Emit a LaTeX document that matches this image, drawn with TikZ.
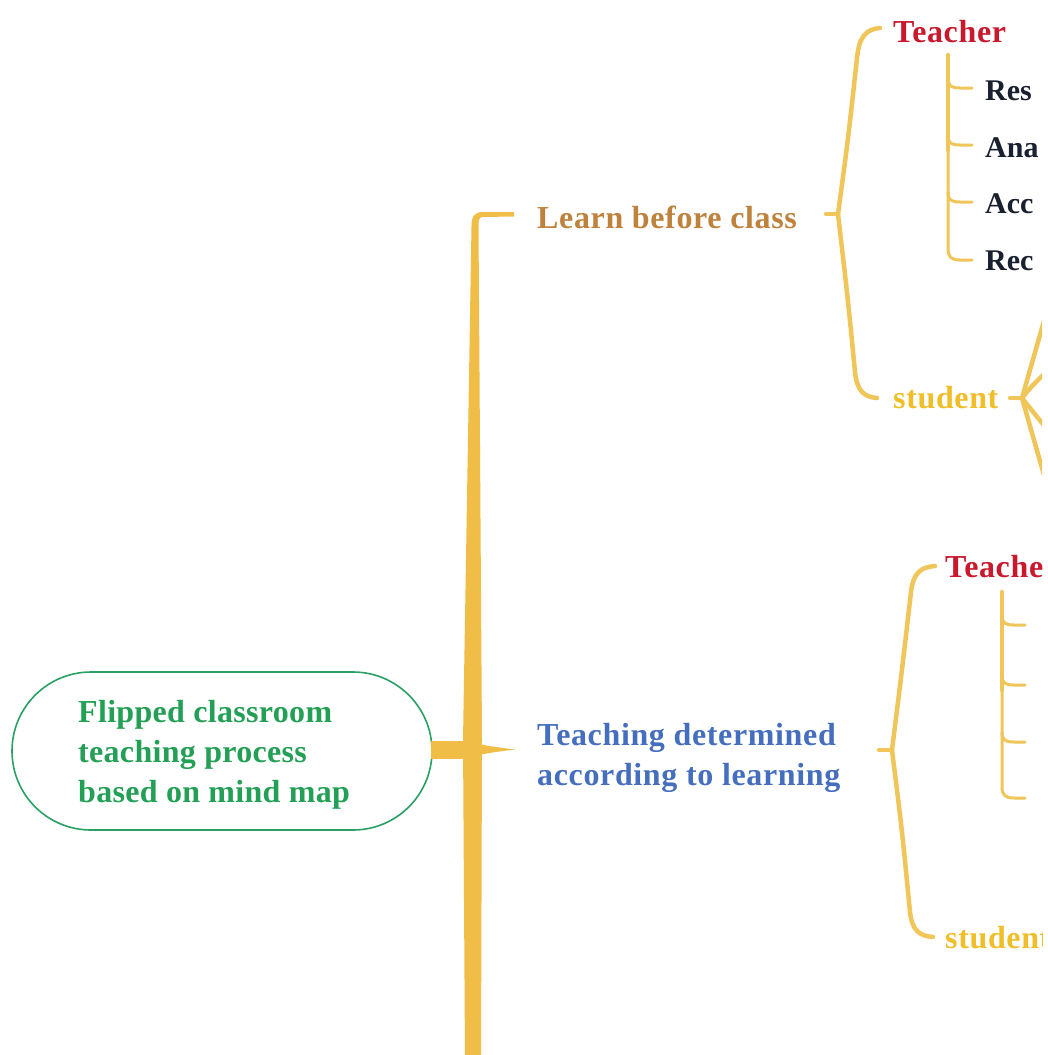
\documentclass[tikz,border=0pt]{standalone}
\usepackage{fontspec}
\setmainfont{Liberation Serif}
\usetikzlibrary{calc}
\definecolor{branch}{HTML}{F0BE46}
\definecolor{bracec}{HTML}{F0C55A}
\definecolor{rootline}{HTML}{2AA064}
\definecolor{roottext}{HTML}{23A055}
\definecolor{learnc}{HTML}{BE823C}
\definecolor{detc}{HTML}{466EBE}
\definecolor{teachc}{HTML}{C8192D}
\definecolor{studc}{HTML}{F0BE28}
\definecolor{itemc}{HTML}{19202F}
\begin{document}
\begin{tikzpicture}[x=1pt,y=-1pt,
  lbl/.style={inner sep=0pt, anchor=base west, font=\bfseries\fontsize{32}{40}\selectfont\addfontfeatures{LetterSpace=2}},
  brc/.style={draw=bracec, line width=4.5pt, line cap=round, line join=round},
  subline/.style={draw=bracec, line width=3pt, line cap=round, line join=round},
  subvert/.style={draw=bracec, line width=4.5pt, line cap=round}]
\useasboundingbox (0,0) rectangle (1047,1055);
\fill[white] (0,0) rectangle (1047,1055);
\clip (0,0) rectangle (1042,1055);

% root
\node[draw=rootline, line width=1.6pt, rounded corners=79pt, minimum width=420pt,
      minimum height=158pt, inner sep=0pt] (root) at (222,751) {};
\node[inner sep=0pt, anchor=north west, align=left, text=roottext,
      font=\bfseries\fontsize{32}{40}\selectfont\addfontfeatures{LetterSpace=1}] (roottxt) at (78,700)
      {Flipped classroom\\teaching process\\based on mind map};

% level-1 labels
\node[lbl, text=learnc] (learn) at (537,228) {Learn before class};
\node[lbl, anchor=west, text=detc, align=left] (det) at (537,758) {Teaching determined\\according to learning};

% level-2 labels
\node[lbl, text=teachc] (teachA) at (893,42) {Teacher};
\node[lbl, text=studc] (studA) at (893,408) {student};
\node[lbl, text=teachc] (teachB) at (945,577) {Teacher};
\node[lbl, text=studc] (studB) at (945,948) {student};

% level-3 labels (cut at picture edge)
\node[lbl, text=itemc, font=\bfseries\fontsize{30}{36}\selectfont] (resA) at (985,100) {Res};
\node[lbl, text=itemc, font=\bfseries\fontsize{30}{36}\selectfont] (anaA) at (985,157) {Ana};
\node[lbl, text=itemc, font=\bfseries\fontsize{30}{36}\selectfont] (accA) at (985,213) {Acc};
\node[lbl, text=itemc, font=\bfseries\fontsize{30}{36}\selectfont] (recA) at (985,270) {Rec};

% main spine (root -> learn, root -> off-picture)
\fill[branch] (514,212) -- (483,212) .. controls (475,212) and (471.5,216) .. (471.5,226)
   -- (463,740) -- (465,1060) -- (481,1060) -- (482,740) -- (478.5,226)
   .. controls (478.5,220) and (479,217) .. (483,217) -- (514,216.5) -- cycle;
% root -> det
\fill[branch] (root.east) ++(-2,-10) rectangle (470,759);
\fill[branch] (478,744) .. controls (495,747) .. (515,749.5) .. controls (495,752) .. (478,755) -- cycle;

% brace of learn
\coordinate (jA) at (838,214);
\draw[brc] (826,214) -- (jA);
\draw[brc] (jA) .. controls (848,140) .. (857,58) .. controls (859,37) and (866,29) .. (880,28);
\draw[brc] (jA) .. controls (848,300) .. (855,372) .. controls (857,391) and (864,397) .. (877,398);

% teacher A sub-branches
\draw[subvert] (948,55) -- (948,150);
\draw[subline] (948,140) -- (948,248) .. controls (948,257) and (951,260) .. (960,260) -- (972,260);
\foreach \yy in {88,145,202}{
  \draw[subline] (948,\yy-10) .. controls (948,\yy-2) and (951,\yy) .. (960,\yy) -- (972,\yy);
}

% student A brace
\coordinate (jS) at (1022,398);
\draw[brc] (1010,398) -- (jS);
\draw[brc] (jS) .. controls (1030,370) .. (1042,328) -- (1050,300);
\draw[brc] (jS) .. controls (1030,388) .. (1042,376) -- (1050,370);
\draw[brc] (jS) .. controls (1030,408) .. (1042,423) -- (1050,430);
\draw[brc] (jS) .. controls (1030,426) .. (1042,468) -- (1050,495);

% brace of det
\coordinate (jB) at (892,750);
\draw[brc] (879,750) -- (jB);
\draw[brc] (jB) .. controls (902,670) .. (911,592) .. controls (913,574) and (920,567) .. (935,566);
\draw[brc] (jB) .. controls (902,830) .. (910,912) .. controls (912,930) and (919,936) .. (933,937);

% teacher B sub-branches
\draw[subvert] (1002,592) -- (1002,690);
\draw[subline] (1002,680) -- (1002,786) .. controls (1002,795) and (1005,798) .. (1014,798) -- (1025,798);
\foreach \yy in {625,685,742}{
  \draw[subline] (1002,\yy-10) .. controls (1002,\yy-2) and (1005,\yy) .. (1014,\yy) -- (1025,\yy);
}
\end{tikzpicture}
\end{document}
